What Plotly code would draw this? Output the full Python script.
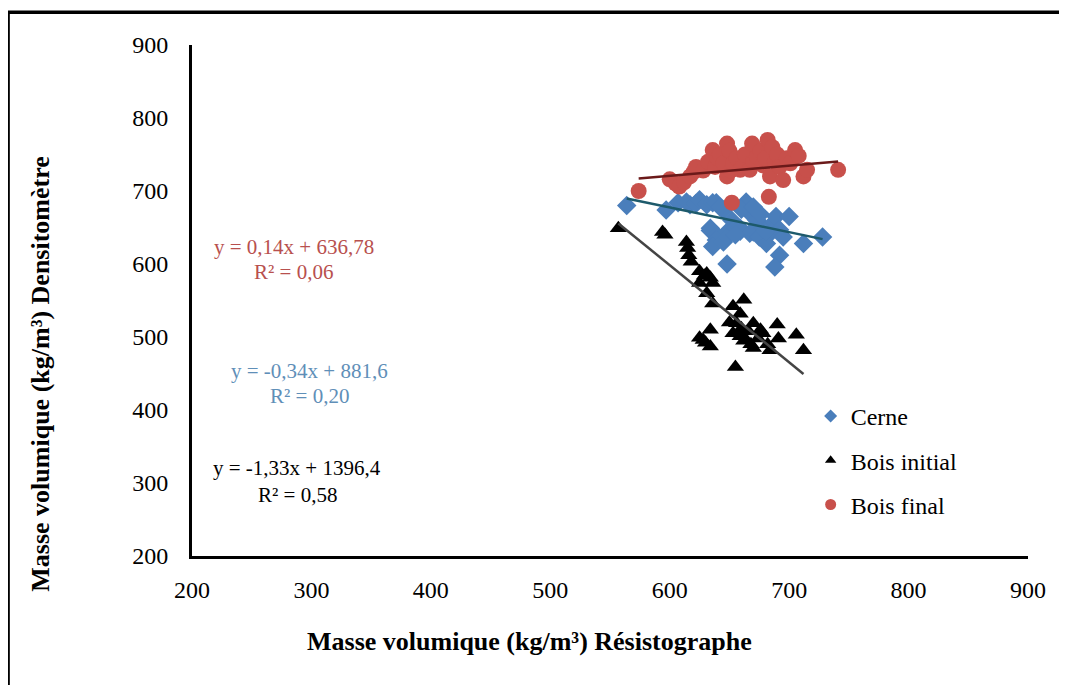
import numpy as np
import plotly.graph_objects as go

# ---- data ----
cerne_x = [564, 597, 607, 614, 617, 622, 625, 631, 636, 639, 645, 634, 634, 639, 639, 636, 645, 648, 648, 648,
           652, 655, 659, 659, 664, 664, 667, 670, 667, 673, 675, 678, 681, 683, 686, 689, 692, 695, 700, 712,
           692, 688, 728, 660, 670, 676, 680, 655, 642]
cerne_y = [680, 674, 684, 685, 681, 683, 688, 681, 684, 684, 674, 649, 646, 640, 633, 624, 630, 644, 637, 600,
           660, 650, 649, 645, 681, 685, 670, 644, 642, 660, 637, 651, 628, 640, 655, 665, 647, 637, 665, 628,
           612, 596, 637, 675, 678, 668, 645, 640, 678]

initial_x = [557, 594, 596, 614, 615, 616, 618, 625, 629, 631, 634, 625, 636, 631, 636, 653, 659, 662, 656, 653,
             659, 660, 664, 666, 670, 670, 674, 678, 682, 684, 690, 691, 706, 712, 655, 625, 628, 634, 634, 630,
             650, 662, 668, 676]
initial_y = [649, 644, 640, 630, 622, 612, 603, 590, 584, 587, 581, 574, 574, 560, 546, 542, 532, 551, 519, 505,
             501, 512, 496, 508, 519, 485, 498, 505, 490, 482, 517, 498, 503, 482, 459, 499, 496, 510, 487, 492,
             520, 495, 490, 510]

final_x = [574, 600, 605, 608, 612, 617, 620, 622, 628, 632, 636, 638, 640, 642, 645, 648, 648, 650, 651, 652,
           653, 656, 659, 661, 663, 667, 669, 670, 673, 676, 678, 680, 682, 684, 683, 686, 688, 690, 692, 695,
           698, 701, 705, 708, 712, 715, 741]
final_y = [700, 716, 710, 706, 712, 720, 726, 733, 728, 740, 756, 733, 745, 750, 738, 765, 720, 755, 728, 684,
           738, 745, 729, 733, 750, 729, 765, 740, 747, 755, 735, 745, 770, 720, 692, 760, 740, 750, 733, 715,
           745, 738, 756, 748, 720, 729, 729]

# trend-line coefficients (slope, intercept) and labels
fit_cerne = (-0.34, 881.6)
fit_initial = (-1.33, 1396.4)
fit_final = (0.14, 636.78)
eq_cerne = ["y = -0,34x + 881,6", "R² = 0,20"]
eq_initial = ["y = -1,33x + 1396,4", "R² = 0,58"]
eq_final = ["y = 0,14x + 636,78", "R² = 0,06"]

series_names = ["Cerne", "Bois initial", "Bois final"]

x_ticks = [200, 300, 400, 500, 600, 700, 800, 900]
y_ticks = [200, 300, 400, 500, 600, 700, 800, 900]

FONT = "Liberation Serif"
BLUE = "#4a7ebb"
RED = "#c8504b"

fig = go.Figure()


def trend(xs, coef, color):
    xr = np.array([min(xs), max(xs)], dtype=float)
    fig.add_trace(go.Scatter(x=xr, y=coef[0] * xr + coef[1], mode="lines",
                             line=dict(color=color, width=2.5), showlegend=False,
                             hoverinfo="skip"))


specs = [
    (cerne_x, cerne_y, "diamond", 15, BLUE, 10),
    (initial_x, initial_y, "triangle-up", 15, "black", 10),
    (final_x, final_y, "circle", 16, RED, 11),
]
for (xs, ys, sym, sz, col, lsz), name in zip(specs, series_names):
    fig.add_trace(go.Scatter(x=xs, y=ys, mode="markers", name=name, showlegend=False,
                             marker=dict(symbol=sym, size=sz, color=col)))

trend(initial_x, fit_initial, "#444444")
trend(cerne_x, fit_cerne, "#1d5a6b")
trend(final_x, fit_final, "#6b1a1a")

# legend entries (small symbols as in the reference)
for i, ((xs, ys, sym, sz, col, lsz), name) in enumerate(zip(specs, series_names)):
    fig.add_trace(go.Scatter(x=[None], y=[None], mode="markers", name=name,
                             legendgroup=str(i),
                             marker=dict(symbol=sym, size=lsz, color=col)))

annotations = []


def eq(lines, xc, ys, color):
    for t, yv in zip(lines, ys):
        annotations.append(dict(x=xc, y=yv, xref="x", yref="y", text=t, showarrow=False,
                                font=dict(family=FONT, size=21, color=color)))


eq(eq_final, 285, [623, 589], "#b8504e")
eq(eq_cerne, 298, [453, 419], "#5f8fb8")
eq(eq_initial, 288, [320, 284], "black")

annotations.append(dict(x=0.404, y=-0.2, xref="paper", yref="paper",
                        text="<b>Masse volumique (kg/m³) Résistographe</b>", showarrow=False,
                        font=dict(family=FONT, size=26, color="black")))
annotations.append(dict(x=-0.202, y=0.356, xref="paper", yref="paper", textangle=-90,
                        text="<b>Masse volumique (kg/m³) Densitomètre</b>", showarrow=False,
                        font=dict(family=FONT, size=26, color="black")))

fig.update_layout(
    width=1059, height=677,
    margin=dict(l=184, r=39, t=37, b=129),
    paper_bgcolor="white", plot_bgcolor="white",
    font=dict(family=FONT, size=24, color="black"),
    showlegend=True,
    legend=dict(x=0.74, y=0.317, xanchor="left", yanchor="top",
                font=dict(family=FONT, size=24, color="black"),
                bgcolor="rgba(0,0,0,0)", traceorder="grouped", tracegroupgap=10,
                itemwidth=30),
    annotations=annotations,
    shapes=[dict(type="rect", xref="paper", yref="paper",
                 x0=-0.22, x1=1.07, y0=-0.30, y1=1.064,
                 line=dict(color="black", width=3.5), layer="above")],
)
fig.update_xaxes(range=[200, 900], tickvals=x_ticks, showgrid=False, zeroline=False,
                 showline=True, linecolor="black", linewidth=3, ticks="",
                 ticklabelstandoff=10, tickfont=dict(family=FONT, size=24, color="black"))
fig.update_yaxes(range=[200, 900], tickvals=y_ticks, showgrid=False, zeroline=False,
                 showline=True, linecolor="black", linewidth=3, ticks="",
                 ticklabelstandoff=16, tickfont=dict(family=FONT, size=24, color="black"))

fig.write_html("out.html")
